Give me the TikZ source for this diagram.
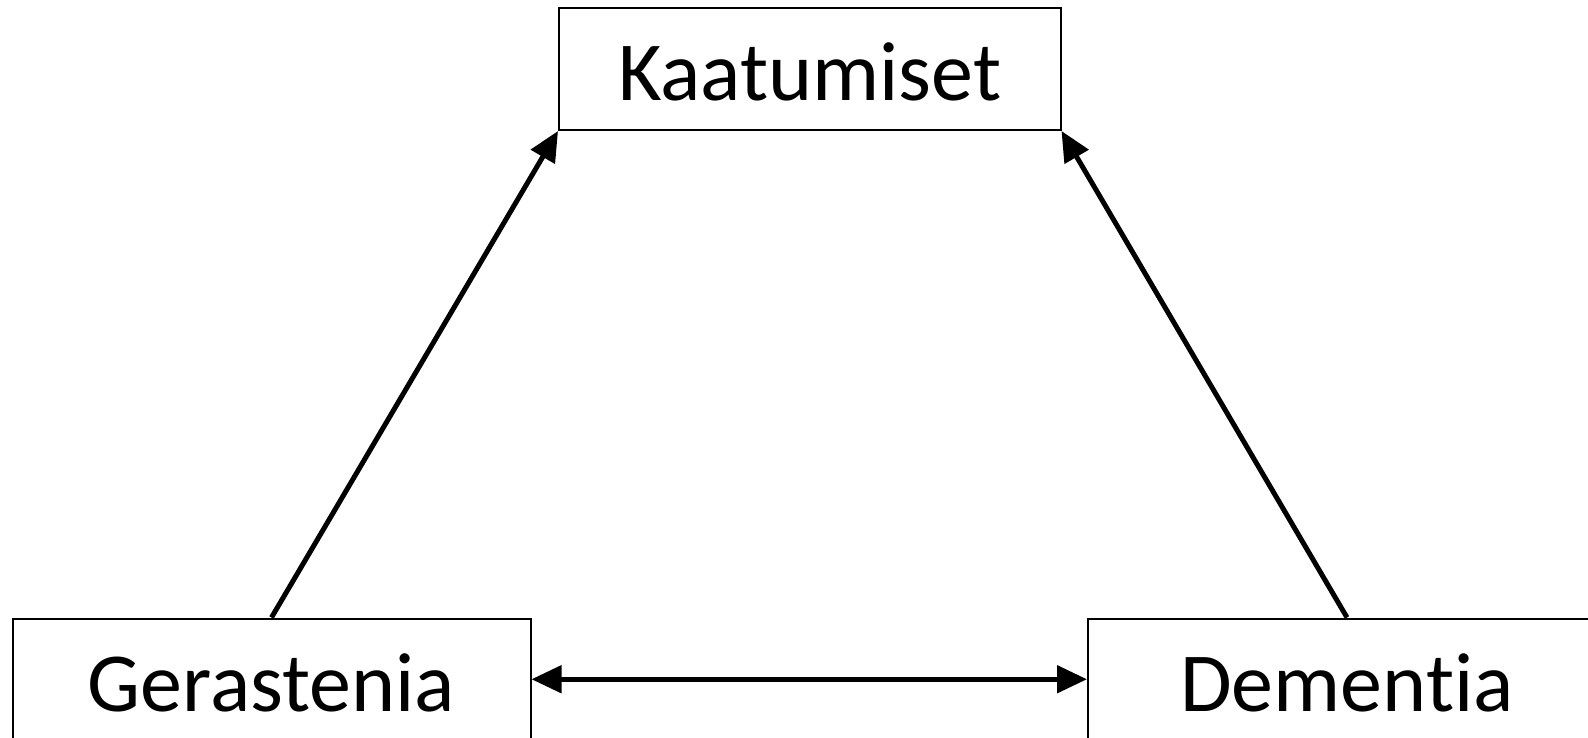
\documentclass[tikz,border=0pt]{standalone}
\usepackage{fontspec}
\setmainfont{Carlito}[Ligatures=NoCommon]
\usetikzlibrary{arrows.meta}

\tikzset{
  box/.style={draw=black, line width=2pt, fill=white, inner sep=0pt,
    minimum height=121.5pt, text height=63.5pt, text depth=0pt,
    font=\fontsize{84}{100}\selectfont},
  link/.style={line width=5pt, -{Triangle[length=30pt,width=27pt]}},
  mutual/.style={line width=5pt, {Triangle[length=30pt,width=27pt]}-{Triangle[length=30pt,width=27pt]}}
}

\begin{document}
\begin{tikzpicture}[x=1pt,y=-1pt]
  \useasboundingbox (0,0) rectangle (1588,738);
  \clip (0,0) rectangle (1588,738);
  \fill[white] (0,0) rectangle (1588,738);

  % boxes
  \node[box, minimum width=501.5pt] (K) at (809.75,69.25) {Kaatumiset};
  \node[box, minimum width=518pt]   (G) at (271.5,679.25) {Gerastenia};
  \node[box, minimum width=518pt]   (D) at (1347,679.25) {Dementia};

  % connectors
  \draw[link] (G.north) -- (K.south west);
  \draw[link] (D.north) -- (K.south east);
  \draw[mutual] (G.east) -- (D.west);
\end{tikzpicture}
\end{document}
